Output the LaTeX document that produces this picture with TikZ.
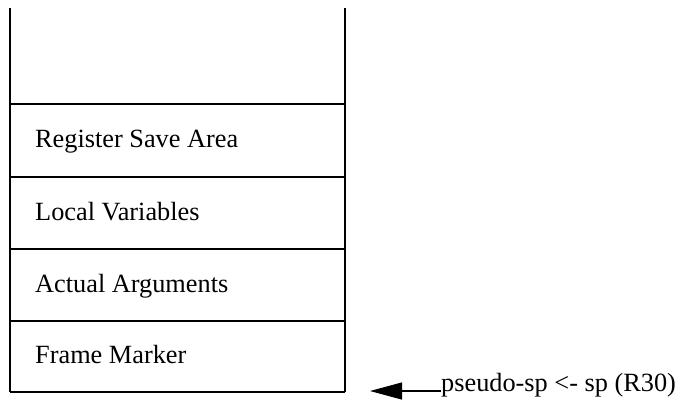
\documentclass[tikz,border=0pt]{standalone}
\usepackage{fontspec}
\setmainfont{Liberation Serif}
\usetikzlibrary{arrows.meta}
\begin{document}
\begin{tikzpicture}[x=1bp,y=-1bp,
  rowtext/.style={anchor=base west,inner sep=0pt,font=\fontsize{26.3bp}{31bp}\selectfont},
  hline/.style={line width=1.1bp},
  vline/.style={line width=1.6bp},
  ptr/.style={line width=1.1bp,-{Triangle[length=32bp,width=17bp]}}]
\useasboundingbox (0,0) rectangle (692,400);
% stack frame
\draw[vline] (10,8) -- (10,392);
\draw[vline] (345,8) -- (345,392);
\foreach \yy in {104,177,249,321,392} \draw[hline] (10,\yy) -- (345,\yy);
\node[rowtext] (rsa) at (35,147) {Register Save Area};
\node[rowtext] (lv)  at (35,220) {Local Variables};
\node[rowtext] (aa)  at (35,292) {Actual Arguments};
\node[rowtext] (fm)  at (35,363) {Frame Marker};
% pointer
\node[rowtext] (psp) at (441,391) {pseudo-sp <- sp (R30)};
\coordinate (tip) at (370,391);
\draw[ptr] (psp.base west) -- (tip);
\end{tikzpicture}
\end{document}
